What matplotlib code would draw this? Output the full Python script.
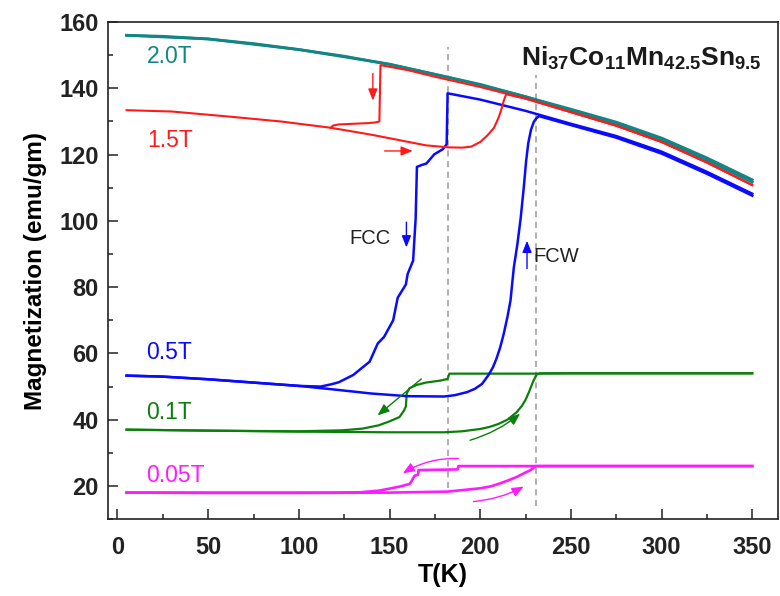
import matplotlib
matplotlib.use("Agg")
import matplotlib.pyplot as plt
from matplotlib.ticker import MultipleLocator

plt.rcParams['font.family'] = ['Liberation Sans', 'DejaVu Sans']
plt.rcParams['mathtext.fontset'] = 'custom'
plt.rcParams['mathtext.rm'] = 'Liberation Sans'
plt.rcParams['mathtext.bf'] = 'Liberation Sans:bold'
plt.rcParams['mathtext.it'] = 'Liberation Sans:italic'

# ---- 2.0 T (cooling and warming nearly coincide) ----
t20_cool = [5, 25, 50, 75, 100, 125, 150, 175, 200, 225, 250, 275, 300, 325, 350]
m20_cool = [156.0, 155.7, 154.9, 153.5, 151.7, 149.7, 147.2, 144.2, 141.0, 137.5, 133.3, 129.3, 124.4, 118.3, 111.7]
t20_warm = [5, 50, 100, 150, 200, 250, 275, 300, 325, 350]
m20_warm = [156.0, 154.9, 151.7, 147.3, 141.2, 133.7, 129.8, 125.0, 119.0, 112.4]

# ---- 1.5 T ----
t15_cool = [350, 325, 300, 275, 250, 225, 200, 175, 160, 145, 144.4, 142, 138, 130, 122, 119, 117.5]
m15_cool = [110.8, 117.6, 123.8, 128.7, 132.8, 136.9, 140.4, 143.5, 145.5, 147.0, 130.0, 129.7, 129.5, 129.3,
            129.1, 128.8, 128.1]
t15_warm = [5, 30, 63, 90, 117.6, 140, 156, 170, 182, 190, 195, 200, 204, 207.6, 210, 211.3, 213, 214.3,
            225, 250, 275, 300, 325, 350]
m15_warm = [133.4, 133.0, 131.4, 130.0, 128.1, 126.0, 124.3, 122.8, 122.2, 122.1, 122.4, 123.8, 125.8, 128.1,
            131.0, 133.0, 136.3, 138.2, 136.9, 132.8, 128.7, 123.8, 117.6, 110.8]

# ---- 0.5 T ----
t05_cool = [350, 325, 300, 275, 250, 225, 200, 182, 181.5, 179.3, 174.7, 170.3, 167.4, 165.1, 164.4, 163, 160,
            159, 154.5, 152, 147, 143.5, 139, 130, 122, 118, 112, 100, 75, 50, 25, 5]
m05_cool = [108.2, 114.8, 120.9, 125.6, 129.3, 133.2, 136.6, 138.5, 123.1, 121.6, 120.1, 117.3, 116.8, 116.3,
            100.8, 88.0, 84.0, 80.8, 76.8, 70.0, 65.0, 63.0, 57.5, 53.5, 51.3, 50.7, 50.0, 50.2, 51.2, 52.2,
            53.0, 53.3]
t05_warm = [5, 25, 50, 75, 100, 118, 140, 160, 180, 186, 192.6, 197, 201, 204.6, 207, 209, 211, 213, 215,
            216.7, 218.5, 220.5, 222.3, 224, 225.3, 226.5, 228, 229.5, 231, 232.5, 250, 275, 300, 325, 350]
m05_warm = [53.3, 53.0, 52.2, 51.2, 50.2, 49.2, 47.9, 47.1, 47.0, 47.4, 48.3, 49.3, 50.8, 53.5, 55.8, 58.5,
            61.8, 66.0, 71.0, 76.0, 85.8, 93.0, 100.8, 110.0, 118.0, 123.5, 127.5, 129.8, 131.0, 131.6,
            128.9, 125.1, 120.3, 114.2, 107.6]

# ---- 0.1 T ----
t01_cool = [350, 300, 250, 232, 183, 182, 178, 170, 165, 161, 159.5, 159, 158, 155.5, 150, 144, 135, 124,
            100, 50, 5]
m01_cool = [54.0, 54.0, 54.0, 53.9, 53.9, 52.3, 51.8, 51.2, 50.5, 49.5, 48.0, 44.0, 42.8, 40.8, 39.5, 38.3,
            37.3, 36.8, 36.5, 36.7, 37.0]
t01_warm = [5, 50, 100, 150, 180, 190, 200, 205, 210, 215, 220, 223, 225, 227, 229, 231, 233, 350]
m01_warm = [37.0, 36.7, 36.4, 36.2, 36.2, 36.5, 37.2, 37.8, 38.7, 40.0, 42.2, 44.2, 46.0, 48.5, 51.3, 53.6,
            54.0, 54.0]

# ---- 0.05 T ----
t005_cool = [350, 250, 188, 187.5, 166, 165.7, 163.8, 162, 161, 155.5, 150, 144.3, 134, 118, 100, 50, 5]
m005_cool = [26.0, 26.0, 26.0, 25.0, 24.8, 23.4, 23.1, 21.3, 20.6, 19.8, 19.2, 18.6, 18.1, 18.0, 18.0, 18.0,
             18.0]
t005_warm = [5, 50, 100, 150, 182, 200, 206, 211, 216, 220.4, 224, 227.8, 230.6, 350]
m005_warm = [18.0, 17.9, 17.9, 18.0, 18.3, 19.3, 19.9, 20.8, 21.8, 22.8, 23.8, 24.8, 26.0, 26.0]

# field labels: text, T, M
field_labels = ['2.0T', '1.5T', '0.5T', '0.1T', '0.05T']
label_T = [16, 16.5, 16, 16, 16]
label_M = [149.5, 124.3, 60.4, 42.2, 23.1]

# guide lines at the transition temperatures
guide_T = [182, 231]
guide_lo = [19.5, 14.0]
guide_hi = [152.5, 144.0]

c20, c15, c05, c01, c005 = '#138585', '#ff1a1a', '#0a0aff', '#0b7f0b', '#ff1aff'
colors = [c20, c15, c05, c01, c005]

fig = plt.figure(figsize=(7.8, 5.96), dpi=100)
ax = fig.add_axes([0.139, 0.129, 0.858, 0.834])

ax.vlines(guide_T, guide_lo, guide_hi, colors='#9a9a9a', linestyles=(0, (4, 3)), linewidth=1.1, zorder=1)

ax.plot(t005_cool, m005_cool, color=c005, lw=1.9, zorder=3)
ax.plot(t005_warm, m005_warm, color=c005, lw=1.9, zorder=3)
ax.plot(t01_cool, m01_cool, color=c01, lw=1.6, zorder=3)
ax.plot(t01_warm, m01_warm, color=c01, lw=1.6, zorder=3)
ax.plot(t05_cool, m05_cool, color=c05, lw=1.8, zorder=4)
ax.plot(t05_warm, m05_warm, color=c05, lw=1.8, zorder=4)
ax.plot(t20_cool, m20_cool, color=c20, lw=2.0, zorder=5)
ax.plot(t20_warm, m20_warm, color=c20, lw=2.0, zorder=5)
ax.plot(t15_warm, m15_warm, color=c15, lw=1.5, zorder=6)
ax.plot(t15_cool, m15_cool, color=c15, lw=1.5, zorder=6)


def arrow(start, end, color, rad=0.0, lw=1.0):
    ax.annotate('', xy=end, xytext=start,
                arrowprops=dict(arrowstyle='-|>,head_length=0.7,head_width=0.28', color=color, lw=lw,
                                shrinkA=0, shrinkB=0, connectionstyle=f'arc3,rad={rad}'),
                zorder=7)


# direction arrows
arrow((140.8, 144.5), (140.8, 136.3), c15)
arrow((147.3, 121.1), (162.8, 121.1), c15)
arrow((159.3, 99.6), (159.3, 92.0), c05)
arrow((225.8, 85.6), (225.8, 94.0), c05)
arrow((167.5, 52.3), (143.4, 41.3), c01)
arrow((194.4, 33.8), (222.0, 41.8), c01, rad=0.1)
arrow((188.0, 28.3), (157.3, 23.8), c005, rad=0.15)
arrow((196.3, 15.3), (224.0, 19.8), c005, rad=0.1)

for txt, tx, my, col in zip(field_labels, label_T, label_M, colors):
    ax.text(tx, my, txt, color=col, fontsize=16.5, ha='left', va='center')

ax.text(139.2, 94.6, 'FCC', fontsize=14.5, color='#222222', ha='center', va='center')
ax.text(229.5, 89.1, 'FCW', fontsize=14.5, color='#222222', ha='left', va='center')

ax.text(355, 149.0, r'$\mathbf{Ni_{37}Co_{11}Mn_{42.5}Sn_{9.5}}$', fontsize=19, color='#1a1a1a',
        ha='right', va='center')

ax.set_xlim(-5, 364)
ax.set_ylim(10, 160)
ax.xaxis.set_major_locator(MultipleLocator(50))
ax.xaxis.set_minor_locator(MultipleLocator(25))
ax.yaxis.set_major_locator(MultipleLocator(20))
ax.yaxis.set_minor_locator(MultipleLocator(10))
ax.tick_params(which='both', direction='in', top=False, right=False, width=1.1, colors='#222222')
ax.tick_params(which='major', length=7, labelsize=17)
ax.tick_params(axis='x', which='major', pad=12)
ax.tick_params(axis='y', which='major', pad=7)
ax.tick_params(which='minor', length=3.5)
for lab in ax.get_xticklabels() + ax.get_yticklabels():
    lab.set_fontweight('bold')
for s in ax.spines.values():
    s.set_linewidth(1.2)
    s.set_color('#222222')

ax.set_xlabel('T(K)', fontsize=18, fontweight='bold', labelpad=3)
ax.set_ylabel('Magnetization (emu/gm)', fontsize=17.5, fontweight='bold', labelpad=9)

fig.savefig('out.png', dpi=100)
